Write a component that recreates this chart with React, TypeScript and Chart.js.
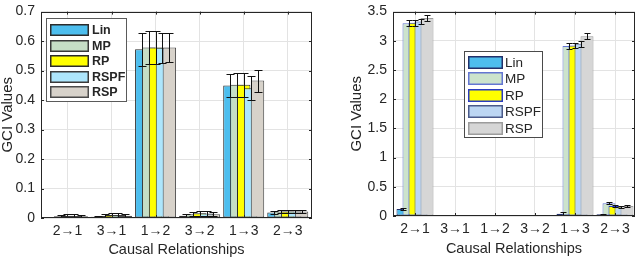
import React, { useEffect, useRef } from 'react';
import { Chart, registerables } from 'chart.js';

Chart.register(...registerables);

const FONT = '"Liberation Sans", Arial, Helvetica, sans-serif';
const INK = '#262626';
const GRID = '#E3E3E3';

// ---------- data ----------
const categories = ['2→1', '3→1', '1→2', '3→2', '1→3', '2→3'];
const methods = ['Lin', 'MP', 'RP', 'RSPF', 'RSP'];

// left panel values
const leftLin = [0.002, 0.004, 0.572, 0.008, 0.449, 0.019];
const leftMP = [0.006, 0.007, 0.578, 0.013, 0.452, 0.022];
const leftRP = [0.008, 0.010, 0.578, 0.016, 0.452, 0.022];
const leftRSPF = [0.007, 0.010, 0.577, 0.015, 0.440, 0.022];
const leftRSP = [0.006, 0.008, 0.578, 0.013, 0.466, 0.022];
// left panel error bars (half-length)
const leftLinErr = [0.002, 0.003, 0.057, 0.004, 0.040, 0.004];
const leftMPErr = [0.004, 0.006, 0.055, 0.007, 0.040, 0.005];
const leftRPErr = [0.005, 0.007, 0.055, 0.008, 0.040, 0.005];
const leftRSPFErr = [0.005, 0.007, 0.050, 0.008, 0.040, 0.005];
const leftRSPErr = [0.004, 0.006, 0.048, 0.007, 0.037, 0.005];
const leftYTicks = [0, 0.1, 0.2, 0.3, 0.4, 0.5, 0.6, 0.7];

// right panel values
const rightLin = [0.12, 0.008, 0.006, 0.006, 0.04, 0.03];
const rightMP = [3.30, 0.010, 0.008, 0.008, 2.91, 0.22];
const rightRP = [3.31, 0.010, 0.008, 0.008, 2.92, 0.17];
const rightRSPF = [3.33, 0.010, 0.008, 0.008, 2.95, 0.15];
const rightRSP = [3.39, 0.011, 0.009, 0.009, 3.08, 0.17];
// right panel error bars (half-length)
const rightLinErr = [0.012, 0.006, 0.005, 0.005, 0.02, 0.01];
const rightMPErr = [0.055, 0.007, 0.006, 0.006, 0.05, 0.02];
const rightRPErr = [0.05, 0.007, 0.006, 0.006, 0.05, 0.02];
const rightRSPFErr = [0.05, 0.007, 0.006, 0.006, 0.05, 0.02];
const rightRSPErr = [0.055, 0.007, 0.006, 0.006, 0.05, 0.02];
const rightYTicks = [0, 0.5, 1, 1.5, 2, 2.5, 3, 3.5];

// ---------- styles ----------
const leftFills = ['#4DBEEE', '#C6DEC6', '#FFFF00', '#ADE6FC', '#D7D2CA'];
const leftEdges = ['#2B2B2B', '#3A3A3A', '#2B2B2B', '#3A3A3A', '#4A4A4A'];
const rightFills = ['#4DBEEE', '#CCE3CC', '#FFFF00', '#BCD6F3', '#D6D6D6'];
const rightEdges = ['#22306A', '#6476D2', '#2A3CC0', '#4A5A8A', '#9C9C9C'];

type Legend = {
  x: number; y: number; w: number; h: number; border: string;
  swX: number; swW: number; swH: number; rowTop: number; step: number;
  textX: number; font: string;
};

type Panel = {
  values: number[][];
  errors: number[][];
  fills: string[];
  edges: string[];
  yTicks: number[];
  xMin: number; xMax: number;
  padLeft: number; padRight: number; padTop: number;
  yAxisWidth: number; xAxisHeight: number;
  catPct: number; barPct: number; cap: number;
  xTitlePad: number;
  legend: Legend;
};

const leftPanel: Panel = {
  values: [leftLin, leftMP, leftRP, leftRSPF, leftRSP],
  errors: [leftLinErr, leftMPErr, leftRPErr, leftRSPFErr, leftRSPErr],
  fills: leftFills,
  edges: leftEdges,
  yTicks: leftYTicks,
  xMin: 0.4, xMax: 6.55,
  padLeft: 0, padRight: 8, padTop: 6,
  yAxisWidth: 41, xAxisHeight: 42,
  catPct: 0.783, barPct: 1.94, cap: 4,
  xTitlePad: 1,
  legend: {
    x: 46, y: 18, w: 81, h: 84, border: '#5A5A5A',
    swX: 50, swW: 39, swH: 12, rowTop: 24, step: 15.6,
    textX: 92, font: `bold 12.5px ${FONT}`,
  },
};

const rightPanel: Panel = {
  values: [rightLin, rightMP, rightRP, rightRSPF, rightRSP],
  errors: [rightLinErr, rightMPErr, rightRPErr, rightRSPFErr, rightRSPErr],
  fills: rightFills,
  edges: rightEdges,
  yTicks: rightYTicks,
  xMin: 0.45, xMax: 6.5,
  padLeft: 29, padRight: 5, padTop: 8,
  yAxisWidth: 44, xAxisHeight: 44,
  catPct: 0.75, barPct: 2.17, cap: 3,
  xTitlePad: 2,
  legend: {
    x: 144, y: 51, w: 79, h: 87, border: '#4A4A4A',
    swX: 148, swW: 35, swH: 13, rowTop: 55.5, step: 16.5,
    textX: 185, font: `13.5px ${FONT}`,
  },
};

const decorPlugin = {
  id: 'decor',
  beforeDatasetsDraw(chart: any, _args: any, opts: any) {
    const p: Panel = opts.panel;
    const ctx = chart.ctx;
    const area = chart.chartArea;
    const yScale = chart.scales.y;
    ctx.save();
    ctx.beginPath();
    ctx.rect(area.left, area.top, area.right - area.left, area.bottom - area.top);
    ctx.clip();
    // bars: first series at the bottom, last series on top
    const metas = chart.getSortedVisibleDatasetMetas().slice().sort((a: any, b: any) => a.index - b.index);
    metas.forEach((m: any) => m.controller.draw());
    // error bars on top
    ctx.strokeStyle = '#111';
    ctx.lineWidth = 1;
    metas.forEach((m: any) => {
      const di = m.index;
      m.data.forEach((bar: any, i: number) => {
        const v = p.values[di][i];
        const e = p.errors[di][i];
        const x = Math.round(bar.x) + 0.5;
        const yt = Math.round(yScale.getPixelForValue(v + e)) + 0.5;
        const yb = Math.round(Math.min(yScale.getPixelForValue(v - e), area.bottom)) + 0.5;
        ctx.beginPath();
        ctx.moveTo(x, yt); ctx.lineTo(x, yb);
        ctx.moveTo(x - p.cap, yt); ctx.lineTo(x + p.cap, yt);
        ctx.moveTo(x - p.cap, yb); ctx.lineTo(x + p.cap, yb);
        ctx.stroke();
      });
    });
    ctx.restore();
    return false;
  },
  afterDraw(chart: any, _args: any, opts: any) {
    const p: Panel = opts.panel;
    const ctx = chart.ctx;
    const a = chart.chartArea;
    const xs = chart.scales.x;
    const ys = chart.scales.y;
    ctx.save();
    // axes box
    ctx.strokeStyle = INK;
    ctx.lineWidth = 1;
    ctx.strokeRect(Math.round(a.left) + 0.5, Math.round(a.top) + 0.5,
      Math.round(a.right - a.left) - 1, Math.round(a.bottom - a.top) - 1);
    // inward tick marks
    ctx.beginPath();
    p.yTicks.forEach((t) => {
      const y = Math.round(ys.getPixelForValue(t)) + 0.5;
      ctx.moveTo(a.left, y); ctx.lineTo(a.left + 3, y);
      ctx.moveTo(a.right, y); ctx.lineTo(a.right - 3, y);
    });
    categories.forEach((_, i) => {
      const x = Math.round(xs.getPixelForValue(i + 1)) + 0.5;
      ctx.moveTo(x, a.bottom); ctx.lineTo(x, a.bottom - 3);
      ctx.moveTo(x, a.top); ctx.lineTo(x, a.top + 3);
    });
    ctx.stroke();
    // legend
    const L = p.legend;
    ctx.fillStyle = '#FFFFFF';
    ctx.fillRect(L.x, L.y, L.w, L.h);
    ctx.strokeStyle = L.border;
    ctx.strokeRect(L.x + 0.5, L.y + 0.5, L.w - 1, L.h - 1);
    methods.forEach((name, k) => {
      const top = Math.round(L.rowTop + k * L.step);
      ctx.fillStyle = p.fills[k];
      ctx.fillRect(L.swX, top, L.swW, L.swH);
      ctx.strokeStyle = p.edges[k];
      ctx.lineWidth = 1.5;
      ctx.strokeRect(L.swX + 0.75, top + 0.75, L.swW - 1.5, L.swH - 1.5);
      ctx.fillStyle = INK;
      ctx.font = L.font;
      ctx.textAlign = 'left';
      ctx.textBaseline = 'middle';
      ctx.fillText(name, L.textX, top + L.swH / 2 + 0.5);
    });
    ctx.restore();
  },
};

function makeConfig(p: Panel): any {
  return {
    type: 'bar',
    data: {
      datasets: methods.map((name, k) => ({
        label: name,
        data: p.values[k].map((v, i) => ({ x: i + 1, y: v })),
        backgroundColor: p.fills[k],
        borderColor: p.edges[k],
        borderWidth: 1,
        borderSkipped: false,
        categoryPercentage: p.catPct,
        barPercentage: p.barPct,
      })),
    },
    options: {
      responsive: false,
      animation: false,
      events: [],
      layout: { padding: { left: p.padLeft, right: p.padRight, top: p.padTop, bottom: 0 } },
      plugins: {
        legend: { display: false },
        tooltip: { enabled: false },
        decor: { panel: p },
      },
      scales: {
        x: {
          type: 'linear',
          min: p.xMin,
          max: p.xMax,
          offset: false,
          afterBuildTicks: (axis: any) => { axis.ticks = categories.map((_, i) => ({ value: i + 1 })); },
          afterFit: (axis: any) => { axis.height = p.xAxisHeight; },
          ticks: {
            autoSkip: false,
            maxRotation: 0,
            padding: 5,
            color: INK,
            font: { family: FONT, size: 14 },
            callback: (v: number) => categories[Math.round(v) - 1] ?? '',
          },
          grid: { color: GRID, drawTicks: false, offset: false },
          border: { display: false },
          title: {
            display: true,
            text: 'Causal Relationships',
            color: INK,
            font: { family: FONT, size: 14.5 },
            padding: { top: p.xTitlePad, bottom: p.xTitlePad },
          },
        },
        y: {
          type: 'linear',
          min: 0,
          max: p.yTicks[p.yTicks.length - 1],
          afterBuildTicks: (axis: any) => { axis.ticks = p.yTicks.map((v) => ({ value: v })); },
          afterFit: (axis: any) => { axis.width = p.yAxisWidth; },
          ticks: {
            padding: 6,
            color: INK,
            font: { family: FONT, size: 14, lineHeight: 0.8 },
            callback: (v: number) => String(Math.round(v * 100) / 100),
          },
          grid: { color: GRID, drawTicks: false },
          border: { display: false },
          title: {
            display: true,
            text: 'GCI Values',
            color: INK,
            font: { family: FONT, size: 15, lineHeight: 1 },
            padding: 0,
          },
        },
      },
    },
    plugins: [decorPlugin],
  };
}

function Panel({ panel, left }: { panel: Panel; left: number }) {
  const ref = useRef<HTMLCanvasElement | null>(null);
  useEffect(() => {
    if (!ref.current) return;
    const chart = new Chart(ref.current, makeConfig(panel));
    return () => chart.destroy();
  }, [panel]);
  return (
    <canvas
      ref={ref}
      width={320}
      height={260}
      style={{ position: 'absolute', left, top: 0, width: 320, height: 260 }}
    />
  );
}

export default function App() {
  return (
    <div style={{ position: 'fixed', left: 0, top: 0, width: 640, height: 260, background: '#fff' }}>
      <Panel panel={leftPanel} left={0} />
      <Panel panel={rightPanel} left={320} />
    </div>
  );
}
